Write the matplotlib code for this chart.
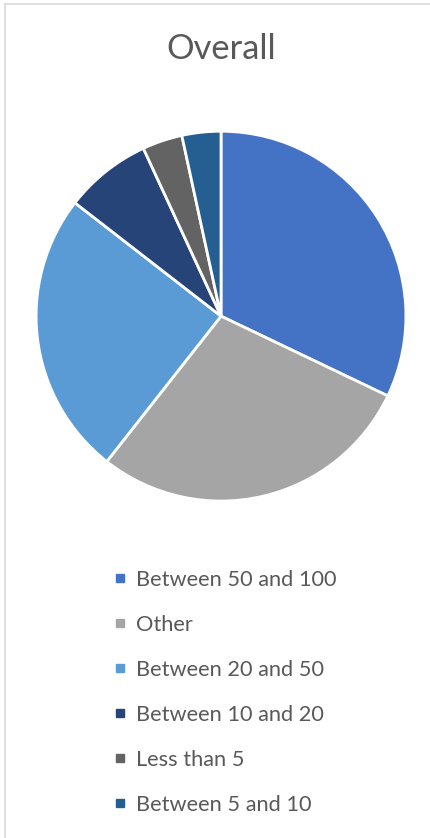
import matplotlib.pyplot as plt
from matplotlib.lines import Line2D

categories = ["Between 50 and 100", "Other", "Between 20 and 50",
              "Between 10 and 20", "Less than 5", "Between 5 and 10"]
values = [32.1, 28.5, 24.9, 7.6, 3.5, 3.4]
colors = ["#4472C4", "#A5A5A5", "#5B9BD5", "#264478", "#636363", "#255E91"]

plt.rcParams["font.family"] = ["Lato", "DejaVu Sans"]

fig = plt.figure(figsize=(4.30, 8.38), dpi=100)

# chart frame (only top and left edge visible)
fig.add_artist(Line2D([4.5 / 430, 4.5 / 430], [0, 1 - 4.5 / 838], transform=fig.transFigure,
                      color="#D9D9D9", lw=1.2))
fig.add_artist(Line2D([4.5 / 430, 1], [1 - 4.5 / 838, 1 - 4.5 / 838], transform=fig.transFigure,
                      color="#D9D9D9", lw=1.2))

fig.text(221 / 430, 1 - 49 / 838, "Overall", ha="center", va="center",
         fontsize=24.8, color="#595959")

ax = fig.add_axes([0.084, 0.402, 0.860, 0.4415])
ax.pie(values, colors=colors, startangle=90, counterclock=False, radius=1,
       wedgeprops={"edgecolor": "white", "linewidth": 2})
ax.set_xlim(-1.0, 1.0)
ax.set_ylim(-1.0, 1.0)
ax.set_aspect("equal")
ax.axis("off")

handles = [Line2D([], [], marker="s", linestyle="none", markersize=6,
                  markerfacecolor=c, markeredgecolor=c) for c in colors]
fig.legend(handles, categories, loc="upper left",
           bbox_to_anchor=(105 / 430, 1 - 561 / 838), frameon=False,
           fontsize=15.7, labelcolor="#595959", handlelength=0.55,
           handletextpad=0.45, labelspacing=1.15, borderaxespad=0)

fig.savefig("out.png", dpi=100, facecolor="white")
